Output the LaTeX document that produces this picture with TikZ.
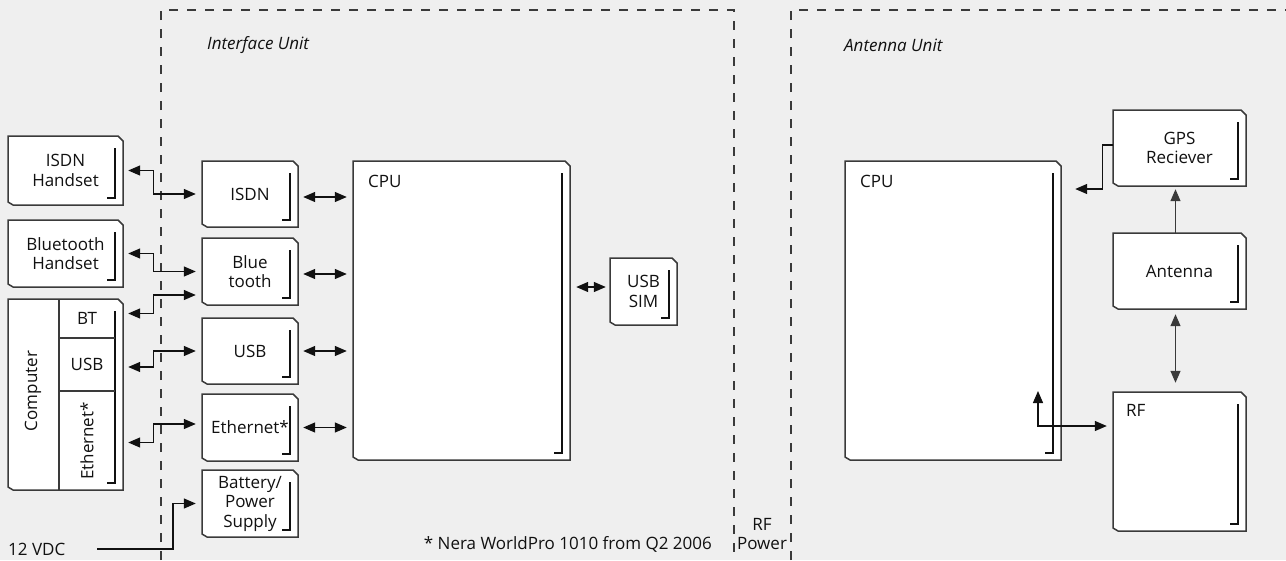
\documentclass[tikz,border=0pt]{standalone}
\usepackage{fontspec}
\usepackage{graphicx}
\setmainfont{Open Sans}
\usetikzlibrary{arrows.meta,calc}
\definecolor{bg}{HTML}{EFEFEF}
\definecolor{edge}{HTML}{3A3A3A}
\definecolor{ink}{HTML}{111111}
\newcommand\unitbox[6]{%
  \filldraw[fill=white,draw=edge,line width=1.5pt] (#2,#3) -- (#4-5,#3) -- (#4,#3+5) -- (#4,#5) -- (#2+5,#5) -- (#2,#5-3) -- cycle;
  \draw[ink,line width=1.2pt] (#4-8,#3+12) -- (#4-8,#5-7) -- (#4-16,#5-7);
  \node[boxtext, minimum width={(#4-#2)*1pt}, minimum height={(#5-#3)*1pt}] (#1) at ({(#2+#4)/2},{(#3+#5)/2}) {#6};
}
\begin{document}
\begin{tikzpicture}[x=1pt,y=-1pt,
  >={Triangle[length=12pt,width=10pt]},
  txt/.style={font=\fontsize{17}{19.5}\selectfont, text=ink, inner sep=0},
  boxtext/.style={txt, align=center},
  conn/.style={draw=ink, line width=1.3pt},
  frame/.style={draw=edge, line width=1.2pt, dash pattern=on 9pt off 9pt}
]
\fill[bg] (0,0) rectangle (1286,560);
\useasboundingbox (0,0) rectangle (1286,560);

% dashed unit frames
\draw[frame] (161,560) -- (161,10) -- (734,10) -- (734,560);
\draw[frame] (791,560) -- (791,10) -- (1286,10);
\node[txt, anchor=west, font=\fontsize{17}{19.5}\selectfont\itshape] (iu) at (207,45) {Interface Unit};
\node[txt, anchor=west, font=\fontsize{17}{19.5}\selectfont\itshape] (au) at (844,45) {Antenna Unit};

% external devices
\unitbox{isdnh}{8}{136}{123}{205}{ISDN\\Handset}
\unitbox{bth}{8}{220}{123}{287}{Bluetooth\\Handset}
\unitbox{comp}{8}{299}{123}{490}{}
\draw[edge,line width=1.5pt] (59,299) -- (59,490);
\draw[edge,line width=1.5pt] (59,338) -- (115,338);
\draw[edge,line width=1.5pt] (59,391) -- (115,391);
\node[boxtext, rotate=90] (complbl) at (33,391) {Computer};
\node[boxtext, minimum width=56pt, minimum height=39pt] (btcell) at (87,318.5) {BT};
\node[boxtext, minimum width=56pt, minimum height=53pt] (usbcell) at (87,364.5) {USB};
\node[boxtext, minimum width=56pt, minimum height=99pt] (ethcell) at (87,441) {\rotatebox{90}{Ethernet*}};

% interface unit
\unitbox{isdn}{202}{161}{298}{227}{ISDN}
\unitbox{bt}{202}{238}{298}{305}{Blue\\tooth}
\unitbox{usb}{202}{318}{298}{384}{USB}
\unitbox{eth}{202}{394}{298}{461}{Ethernet*}
\unitbox{batt}{202}{470}{298}{537}{Battery/\\Power\\Supply}
\unitbox{cpu}{353}{161}{570}{460}{}
\node[txt, anchor=west] (cpulbl) at (368,181) {CPU};
\unitbox{sim}{610}{258}{677}{325}{USB\\SIM}

% antenna unit
\unitbox{cpu2}{845}{161}{1061}{460}{}
\node[txt, anchor=west] (cpu2lbl) at (860,181) {CPU};
\unitbox{gps}{1113}{110}{1246}{186}{GPS\\Reciever}
\unitbox{ant}{1113}{233}{1246}{309}{Antenna}
\unitbox{rf}{1113}{392}{1246}{531}{}
\node[txt, anchor=west] (rflbl) at (1126,410) {RF};

% texts
\node[txt, anchor=west] (vdc) at (8,549) {12 VDC};
\node[txt, anchor=east] (note) at (712,544) {* Nera WorldPro 1010 from Q2 2006};
\node[boxtext] (rfp) at (762,534) {RF\\Power};

% connectors left
\draw[conn,<->,shorten <=5pt,shorten >=6pt] (isdnh.east) -- ++(30,0) |- (isdn.west);
\draw[conn,<->,shorten <=5pt,shorten >=6pt] (bth.east) -- ++(30,0) |- (bt.west);
\draw[conn,<->,shorten <=13pt,shorten >=6pt] ([yshift=5pt]btcell.east) -- ++(38,0) |- ([yshift=-23.5pt]bt.west);
\draw[conn,<->,shorten <=13pt,shorten >=6pt] ([yshift=-2.5pt]usbcell.east) -- ++(38,0) |- (usb.west);
\draw[conn,<->,shorten <=13pt,shorten >=6pt] ([yshift=-1.5pt]ethcell.east) -- ++(38,0) |- ([yshift=3.5pt]eth.west);
\coordinate (vx) at (97,0);
\draw[conn,->,shorten >=6pt] (vx |- vdc.east) -- ++(76,0) |- (batt.west);

% interface to CPU
\draw[conn,<->,shorten <=5pt,shorten >=6pt] ([yshift=-3pt]isdn.east) -- ([yshift=-3pt]isdn.east -| cpu.west);
\draw[conn,<->,shorten <=5pt,shorten >=6pt] ([yshift=-2.5pt]bt.east) -- ([yshift=-2.5pt]bt.east -| cpu.west);
\draw[conn,<->,shorten <=5pt,shorten >=6pt] (usb.east) -- (usb.east -| cpu.west);
\draw[conn,<->,shorten <=5pt,shorten >=6pt] (eth.east) -- (eth.east -| cpu.west);
\draw[conn,<->,shorten <=6pt,shorten >=4pt] ([yshift=4.5pt]cpu.east |- sim.west) -- ([yshift=4.5pt]sim.west);

% antenna unit connectors
\draw[conn,->,shorten >=14pt] ([yshift=3pt]gps.west) -- ++(-10,0) |- ([yshift=121.5pt]cpu2.east);
\draw[conn,draw=edge,->,shorten >=3pt] ([xshift=-4pt]ant.north) -- ([xshift=-4pt]gps.south);
\draw[conn,draw=edge,<->,shorten <=5pt,shorten >=9pt] ([xshift=-4pt]ant.south) -- ([xshift=-4pt]rf.north);
\coordinate (cpuport) at (1038,391);
\draw[conn,<->,shorten >=6pt] (cpuport) |- ([yshift=35.5pt]rf.west);
\end{tikzpicture}
\end{document}
